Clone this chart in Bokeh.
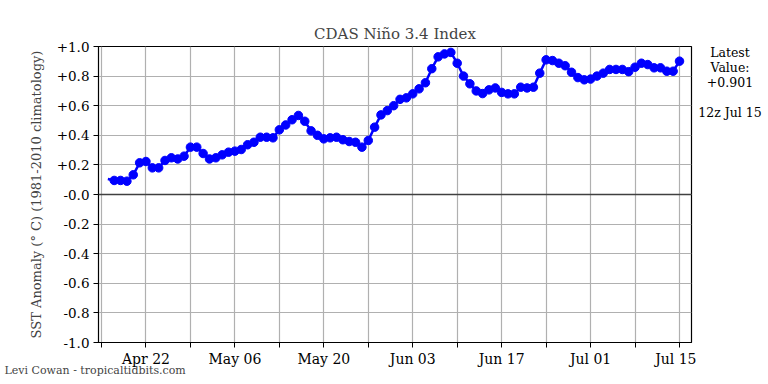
import pandas as pd
from bokeh.plotting import figure
from bokeh.layouts import row
from bokeh.models import Range1d, FixedTicker, DatetimeTickFormatter, Span, Title
from bokeh.core.properties import value
from bokeh.embed import file_html
from bokeh.resources import INLINE

# ---------------- data ----------------
start_date = "2023-04-16"
anomaly = [
    0.105, 0.095, 0.095, 0.090, 0.133, 0.214, 0.223, 0.180, 0.180, 0.230,
    0.248, 0.240, 0.259, 0.320, 0.320,                                   # Apr 16-30
    0.277, 0.240, 0.248, 0.268, 0.286, 0.293, 0.304, 0.336, 0.353, 0.387,
    0.387, 0.383, 0.437, 0.470, 0.505, 0.534, 0.495, 0.430, 0.400, 0.376,
    0.383, 0.387, 0.370, 0.358, 0.353, 0.320, 0.365, 0.455, 0.538, 0.567,
    0.600,                                                               # May
    0.643, 0.653, 0.680, 0.714, 0.755, 0.850, 0.930, 0.950, 0.960, 0.887,
    0.800, 0.748, 0.700, 0.682, 0.707, 0.720, 0.690, 0.680, 0.680, 0.725,
    0.720, 0.725, 0.820, 0.910, 0.905, 0.887, 0.870, 0.826, 0.790, 0.775,  # Jun
    0.780, 0.800, 0.820, 0.845, 0.845, 0.845, 0.830, 0.860, 0.887, 0.878,
    0.856, 0.856, 0.833, 0.833, 0.901,                                   # Jul 1-15
]
grid_dates = ["2023-04-15", "2023-04-29", "2023-05-13", "2023-05-27",
              "2023-06-10", "2023-06-24", "2023-07-08"]
label_dates = ["2023-04-22", "2023-05-06", "2023-05-20", "2023-06-03",
               "2023-06-17", "2023-07-01", "2023-07-15"]
y_ticks = [-1.0, -0.8, -0.6, -0.4, -0.2, 0.0, 0.2, 0.4, 0.6, 0.8, 1.0]
y_labels = ["-1.0", "-0.8", "-0.6", "-0.4", "-0.2", "-0.0",
            "+0.2", "+0.4", "+0.6", "+0.8", "+1.0"]
title_text = "CDAS Niño 3.4 Index"
ylabel_text = "SST Anomaly (° C) (1981-2010 climatology)"
side_texts = ["Latest", "Value:", "+0.901", "12z Jul 15"]
side_rows = [0, 1, 2, 4]          # line slots of the side note
credit = "Levi Cowan - tropicaltidbits.com"
x_start = "2023-04-14 12:40"
x_end = "2023-07-16 21:20"

# ---------------- plot ----------------
FONT = "DejaVu Serif"
dates = pd.date_range(start_date, periods=len(anomaly), freq="D")


def ms(d):
    return pd.Timestamp(d).value / 1e6


p = figure(width=696, height=384, output_backend="svg", toolbar_location=None,
           x_axis_type="datetime",
           x_range=Range1d(pd.Timestamp(x_start), pd.Timestamp(x_end)),
           y_range=Range1d(-1.0, 1.0),
           min_border_left=98, min_border_right=5,
           min_border_top=46, min_border_bottom=42)
p.background_fill_color = "white"
p.border_fill_color = "white"
p.outline_line_color = "black"
p.outline_line_width = 1.2

# title & footer
p.add_layout(Title(text=title_text, align="center", text_font=FONT,
                   text_font_size="15px", text_font_style="normal",
                   standoff=7), "above")
p.add_layout(Title(text=credit, align="left", offset=-94, text_font=FONT,
                   text_font_size="11px", text_font_style="normal",
                   standoff=-15), "below")

# x axis
xa = p.xaxis[0]
xa.ticker = FixedTicker(ticks=[ms(d) for d in label_dates],
                        minor_ticks=[ms(d) for d in grid_dates])
xa.formatter = DatetimeTickFormatter(days="%b %d", months="%b %d", years="%b %d",
                                     hours="%b %d", minutes="%b %d")
xa.major_label_text_font_size = "14px"
xa.major_label_standoff = 3
# y axis
ya = p.yaxis[0]
ya.ticker = FixedTicker(ticks=y_ticks)
ya.major_label_overrides = {t: l for t, l in zip(y_ticks, y_labels)}
ya.axis_label = ylabel_text
ya.axis_label_text_font_style = "normal"
ya.axis_label_text_font = FONT
ya.axis_label_text_font_size = "13px"
ya.axis_label_standoff = 10
ya.minor_tick_line_color = None
ya.major_label_text_font_size = "13.5px"
ya.major_label_standoff = 4

for ax in (xa, ya):
    ax.axis_line_color = "black"
    ax.major_tick_line_color = "black"
    ax.major_tick_out = 5
    ax.major_tick_in = 0
    ax.major_label_text_font = FONT
    ax.major_label_text_color = "black"
xa.minor_tick_line_color = "black"
xa.minor_tick_out = 5
xa.minor_tick_in = 0

# grid
p.xgrid.grid_line_color = "#b0b0b0"
p.xgrid.grid_line_width = 1.2
p.xgrid.minor_grid_line_color = "#b0b0b0"
p.xgrid.minor_grid_line_width = 1.2
p.ygrid.grid_line_color = "#b0b0b0"
p.ygrid.grid_line_width = 1.2

p.add_layout(Span(location=0, dimension="width", line_color="#404040", line_width=1.3))

# series
p.line(dates, anomaly, line_color="blue", line_width=2.5)
p.scatter(dates[1:], anomaly[1:], size=8.5, color="blue")

# side note panel (frame aligned with the main frame; y in page pixels)
s = figure(width=70, height=384, output_backend="svg", toolbar_location=None,
           title=None, x_range=Range1d(0, 70), y_range=Range1d(342, 46),
           min_border_left=0, min_border_right=0,
           min_border_top=46, min_border_bottom=42,
           x_axis_location=None, y_axis_location=None)
s.outline_line_color = None
s.grid.visible = False
s.background_fill_color = "white"
s.border_fill_color = "white"
slot_y = [51.5 + 15.2 * r for r in side_rows]
s.text(x=[33.5] * len(side_texts), y=slot_y, text=side_texts,
       text_align="center", text_baseline="middle",
       text_font=value(FONT), text_font_size="12.5px", text_color="black")

layout = row(p, s, spacing=0)
open("out.html", "w").write(file_html(layout, INLINE))
